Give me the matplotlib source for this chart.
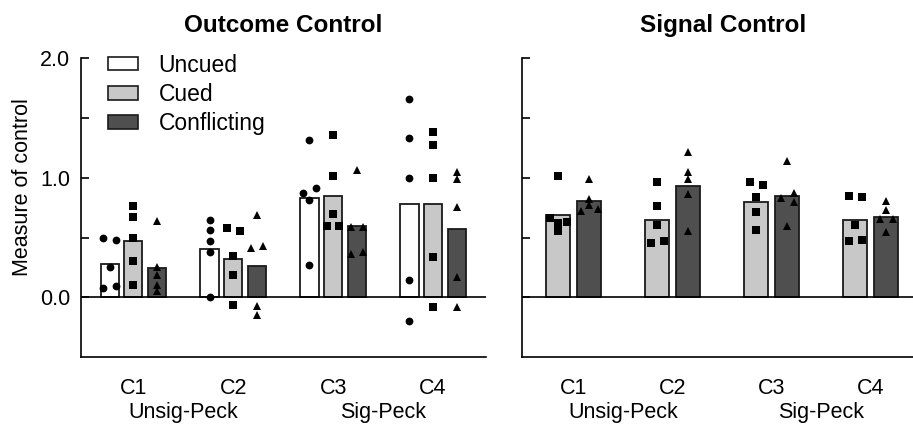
import numpy as np
import matplotlib.pyplot as plt
from matplotlib.patches import Patch

plt.rcParams['font.family'] = ['Liberation Sans', 'DejaVu Sans']

conditions = ['C1', 'C2', 'C3', 'C4']
phases = ['Unsig-Peck', 'Sig-Peck']
legend_labels = ['Uncued', 'Cued', 'Conflicting']

# Outcome control: group means
oc_uncued = [0.278, 0.408, 0.833, 0.778]
oc_cued = [0.467, 0.317, 0.847, 0.778]
oc_conf = [0.244, 0.258, 0.597, 0.569]

# Outcome control: individual birds
oc_uncued_pts = [[0.50, 0.478, 0.25, 0.078, 0.094],
                 [0.645, 0.565, 0.467, 0.38, 0.0],
                 [1.313, 0.869, 0.911, 0.813, 0.269],
                 [1.658, 1.336, 0.994, 0.142, -0.20]]
oc_cued_pts = [[0.767, 0.669, 0.494, 0.305, 0.105],
               [0.58, 0.553, 0.347, 0.186, -0.064],
               [1.355, 1.013, 0.694, 0.60, 0.60],
               [1.383, 1.278, 1.0, 0.336, -0.081]]
oc_conf_pts = [[0.638, 0.25, 0.188, 0.105, 0.05],
               [0.686, 0.411, 0.428, -0.07, -0.148],
               [1.069, 0.588, 0.59, 0.358, 0.38],
               [1.047, 0.986, 0.753, 0.169, -0.083]]

# Signal control: group means
sc_cued = [0.692, 0.647, 0.797, 0.647]
sc_conf = [0.806, 0.930, 0.847, 0.675]

sc_cued_pts = [[1.011, 0.664, 0.625, 0.63, 0.552],
               [0.967, 0.767, 0.608, 0.458, 0.475],
               [0.964, 0.939, 0.842, 0.714, 0.564],
               [0.85, 0.836, 0.608, 0.469, 0.483]]
sc_conf_pts = [[0.992, 0.825, 0.722, 0.769, 0.736],
               [1.217, 1.047, 0.992, 0.864, 0.553],
               [1.139, 0.83, 0.872, 0.797, 0.594],
               [0.803, 0.731, 0.658, 0.658, 0.547]]

fill = {'Uncued': 'white', 'Cued': '#c8c8c8', 'Conflicting': '#4f4f4f'}
edge = '#1a1a1a'


def dodge(vals, thr=0.048, step=0.063):
    # spread points that would overlap sideways, like a small swarm
    order = sorted(range(len(vals)), key=lambda i: vals[i])
    clusters = []
    for i in order:
        if clusters and vals[i] - vals[clusters[-1][-1]] < thr:
            clusters[-1].append(i)
        else:
            clusters.append([i])
    offs = [0.0] * len(vals)
    for c in clusters:
        if len(c) == 2:
            a, b = sorted(c)
            offs[a], offs[b] = -step, step
        elif len(c) >= 3:
            span = vals[c[-1]] - vals[c[0]]
            if span < 1.3 * thr:
                for k, i in enumerate(sorted(c)):
                    offs[i] = 1.4 * step * (k - 1)
            else:
                for k, i in enumerate(reversed(c)):
                    offs[i] = step if k % 2 == 0 else -step
    return offs


def draw_group(ax, means, pts, off, width, color, marker, msize, step):
    x = np.arange(len(conditions)) + off
    ax.bar(x, means, width, color=color, edgecolor=edge, linewidth=1.3, zorder=2)
    for xi, p in zip(x, pts):
        d = dodge(p, step=step)
        ax.plot(xi + np.array(d), p, linestyle='none', marker=marker,
                color='black', markersize=msize, markeredgewidth=0, zorder=4)


fig = plt.figure(figsize=(9.13, 4.29), dpi=100)
ax1 = fig.add_axes([81 / 913, 72 / 429, 405 / 913, 298.7 / 429])
ax2 = fig.add_axes([522 / 913, 72 / 429, 401.4 / 913, 298.7 / 429])

draw_group(ax1, oc_uncued, oc_uncued_pts, -0.237, 0.183, fill['Uncued'], 'o', 5.6, 0.063)
draw_group(ax1, oc_cued, oc_cued_pts, 0.0, 0.183, fill['Cued'], 's', 5.2, 0.063)
draw_group(ax1, oc_conf, oc_conf_pts, 0.237, 0.183, fill['Conflicting'], '^', 6.0, 0.063)

draw_group(ax2, sc_cued, sc_cued_pts, -0.157, 0.243, fill['Cued'], 's', 5.2, 0.063)
draw_group(ax2, sc_conf, sc_conf_pts, 0.157, 0.243, fill['Conflicting'], '^', 6.0, 0.063)

for ax, title in [(ax1, 'Outcome Control'), (ax2, 'Signal Control')]:
    ax.set_xlim(-0.524, 3.53)
    ax.set_ylim(-0.5, 2.0)
    ax.axhline(0, color='black', linewidth=1.2, zorder=3)
    for s in ['top', 'right']:
        ax.spines[s].set_visible(False)
    for s in ['left', 'bottom']:
        ax.spines[s].set_linewidth(1.2)
    ax.set_xticks(range(len(conditions)))
    ax.set_xticklabels(conditions)
    ax.tick_params(axis='x', length=0, pad=15, labelsize=15.5)
    ax.set_yticks([0, 0.5, 1.0, 1.5, 2.0])
    ax.tick_params(axis='y', direction='in', length=6, width=1.2, pad=8, labelsize=15.5)
    ax.set_title(title, fontsize=17.5, fontweight='bold', pad=19)
    for k, ph in enumerate(phases):
        ax.text(0.5 + 2 * k, -0.204, ph, transform=ax.get_xaxis_transform(),
                ha='center', va='baseline', fontsize=15.5)

ax1.set_yticklabels(['0.0', '', '1.0', '', '2.0'])
ax2.set_yticklabels([])

fig.text(22 / 913, 1 - 187 / 429, 'Measure of control', rotation=90,
         ha='center', va='center', fontsize=15.5)

handles = [Patch(facecolor=fill[k], edgecolor=edge, linewidth=1.2) for k in legend_labels]
ax1.legend(handles, legend_labels, loc='upper left', bbox_to_anchor=(0.0667, 1.015),
           frameon=False, fontsize=16.5, borderpad=0, borderaxespad=0,
           handlelength=1.3, handleheight=0.52, handletextpad=0.9, labelspacing=0.27)

plt.savefig('out.png', dpi=100)
